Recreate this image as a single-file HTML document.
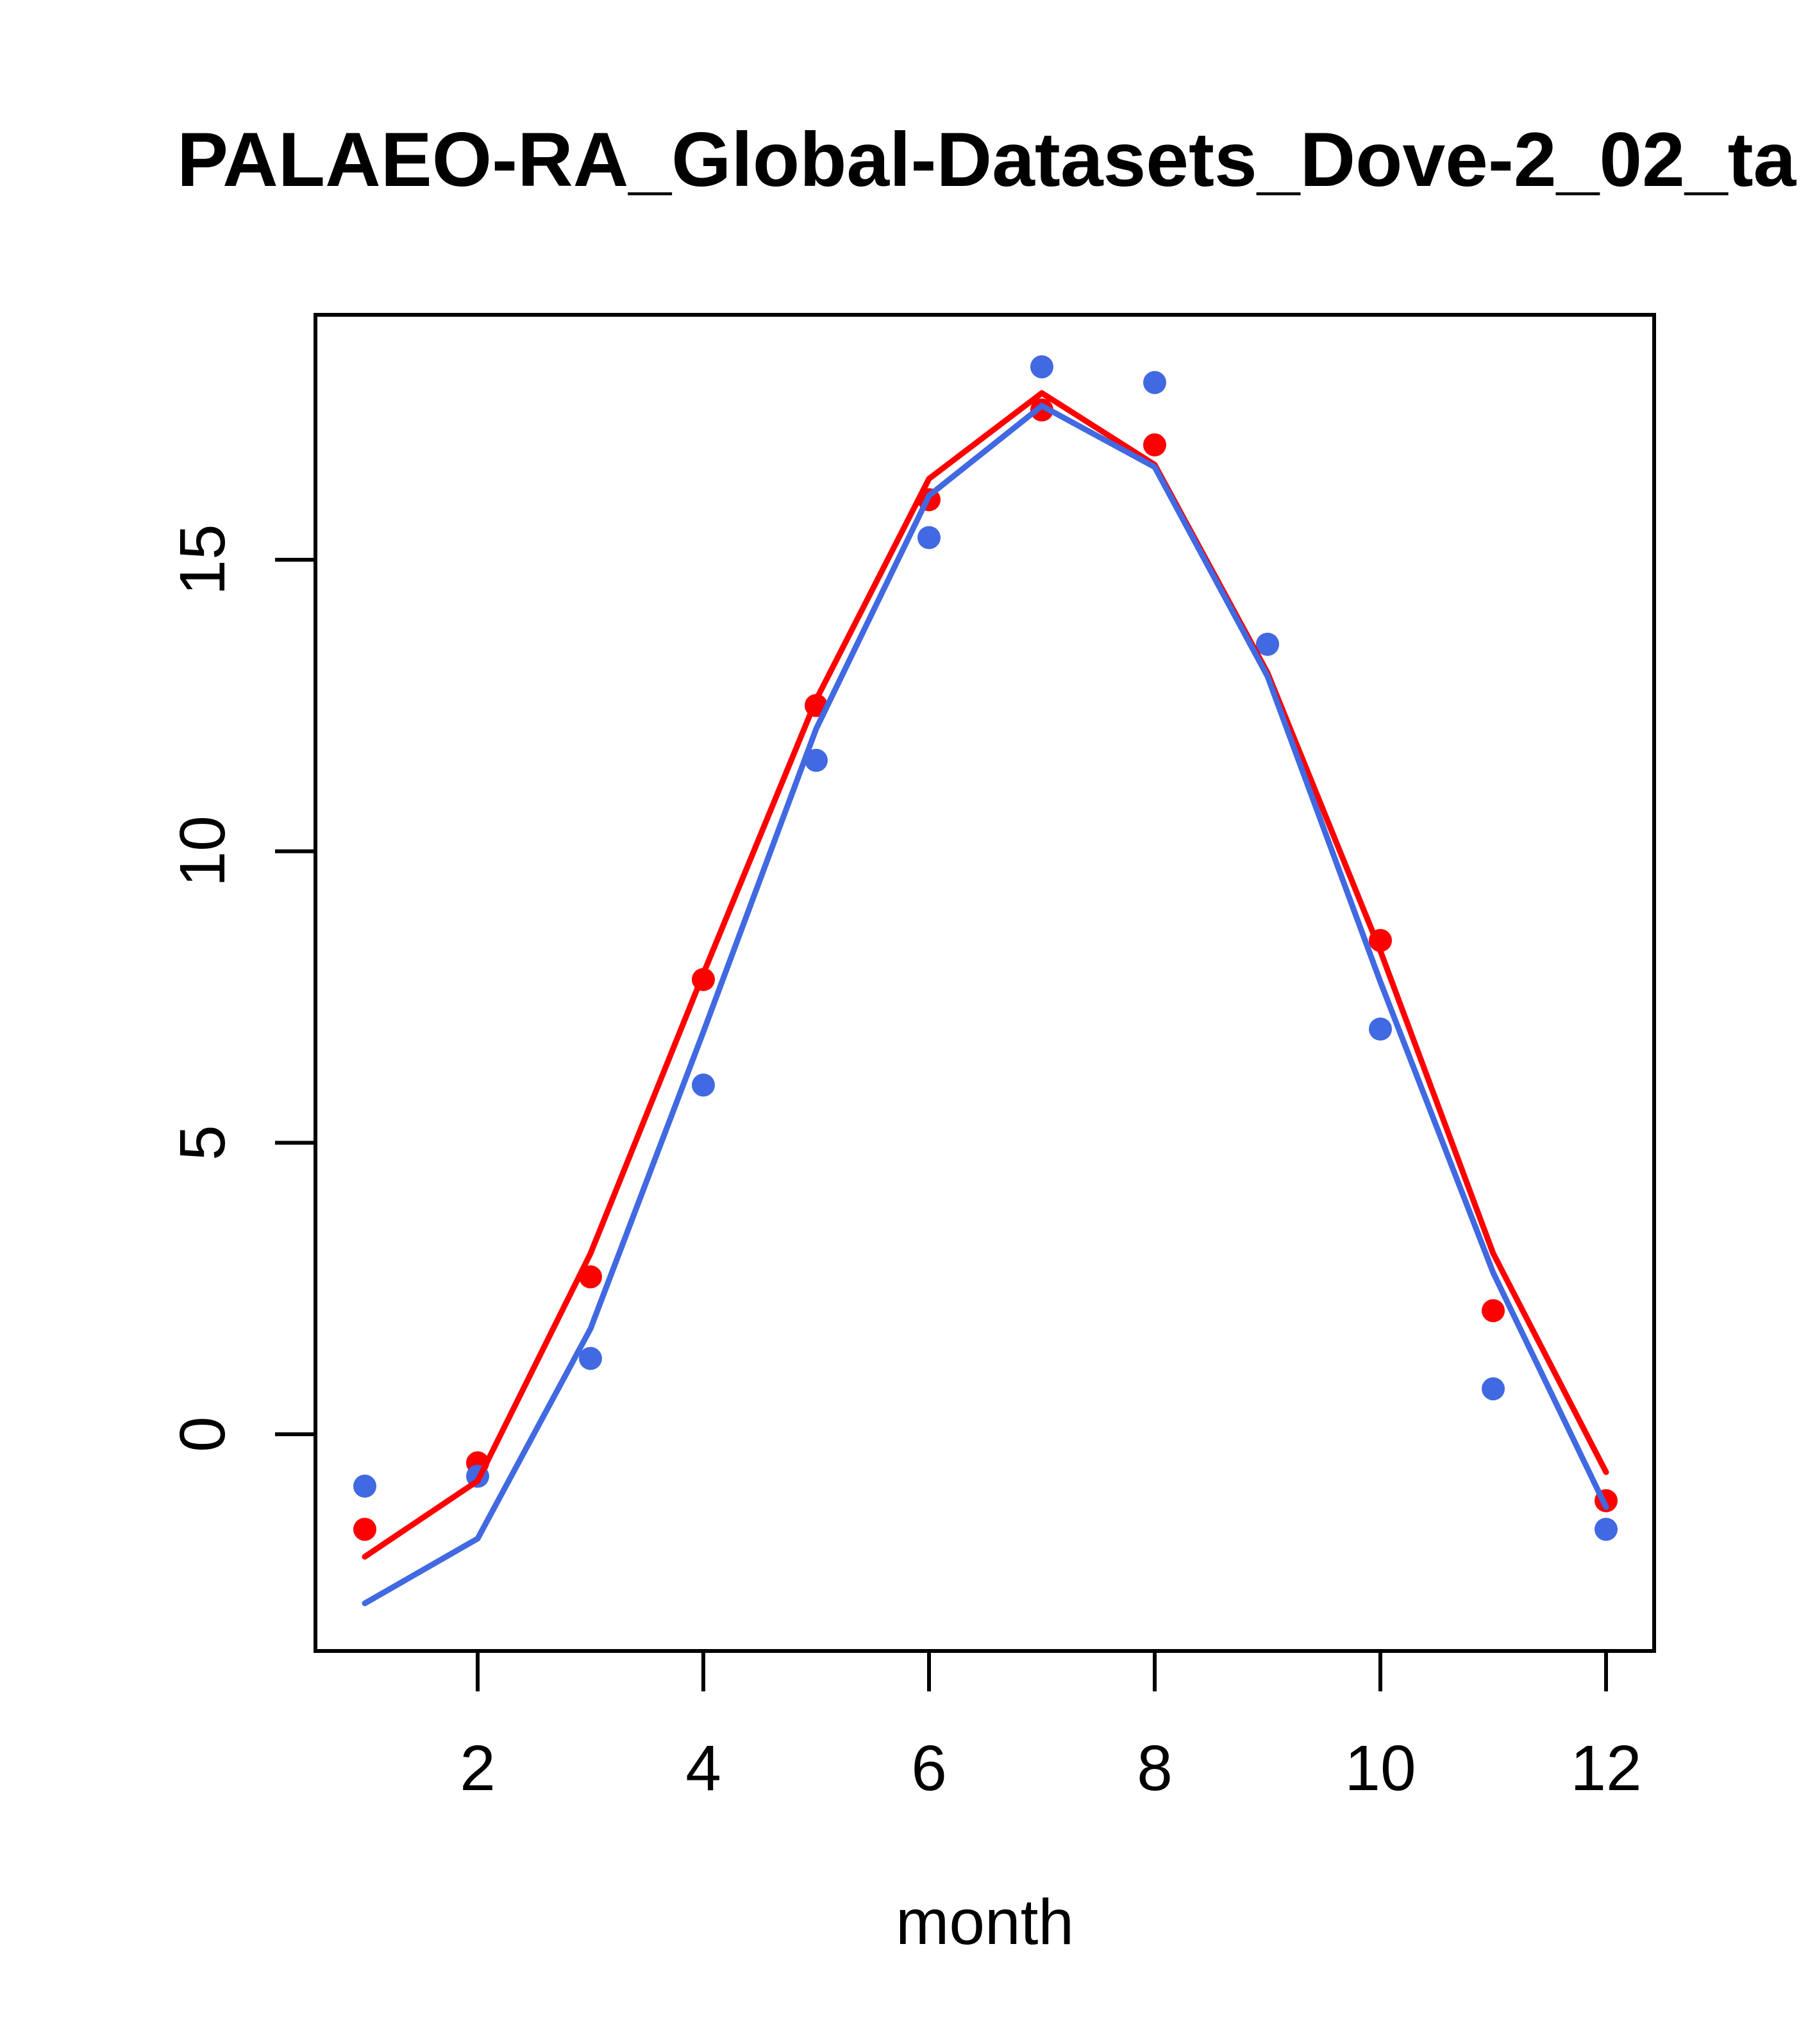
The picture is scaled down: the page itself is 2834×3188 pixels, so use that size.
<!DOCTYPE html>
<html><head><meta charset="utf-8"><style>
html,body{margin:0;padding:0;background:#fff;}
svg{display:block;}
</style></head><body>
<svg xmlns="http://www.w3.org/2000/svg" width="2834" height="3188" viewBox="0 0 2834 3188" font-family="Liberation Sans, sans-serif">
<rect width="2834" height="3188" fill="#fff"/>
<text x="276" y="290" font-size="120" font-weight="bold">PALAEO-RA_Global-Datasets_Dove-2_02_ta</text>
<g id="plot"></g>
<text x="1536" y="3032" font-size="100" text-anchor="middle">month</text>
</svg>
<script>
const months = [1,2,3,4,5,6,7,8,9,10,11,12];
const redPoints = [-1.63,-0.49,2.7,7.8,12.5,16.03,17.57,16.97,13.55,8.47,2.12,-1.14];
const bluePoints = [-0.89,-0.72,1.3,5.99,11.56,15.38,18.31,18.04,13.55,6.95,0.78,-1.63];
const redLine = [-2.1,-0.8,3.1,7.9,12.6,16.39,17.86,16.63,13.06,8.29,3.1,-0.65];
const blueLine = [-2.9,-1.79,1.81,6.9,12.1,16.1,17.64,16.59,13.0,7.76,2.77,-1.25];
const xTicks = [2,4,6,8,10,12];
const yTicks = [0,5,10,15];

const NS = 'http://www.w3.org/2000/svg';
const g = document.getElementById('plot');
function X(m){ return 569 + (m-1)*176; }
function Y(v){ return 2237 - v*90.93; }
function mk(tag, attrs){ const e=document.createElementNS(NS,tag); for(const k in attrs) e.setAttribute(k,attrs[k]); g.appendChild(e); return e; }

const box = mk('rect',{x:492,y:491,width:2088,height:2084,fill:'none',stroke:'#000','stroke-width':6});



xTicks.forEach(t=>{
  const l = mk('line',{x1:X(t),x2:X(t),y1:2575,y2:2638,stroke:'#000','stroke-width':6});
  
  
  const tx = mk('text',{x:X(t),y:2792,'font-size':100,'text-anchor':'middle'});
  tx.textContent = t;
  
  
});
yTicks.forEach(t=>{
  const l = mk('line',{x1:429,x2:492,y1:Y(t),y2:Y(t),stroke:'#000','stroke-width':6});
  
  
  const tx = mk('text',{x:0,y:0,'font-size':100,'text-anchor':'middle',transform:`translate(350,${Y(t)}) rotate(-90)`});
  tx.textContent = t;
  
  
});

function line(vals,color,name){
  const p = mk('polyline',{points:vals.map((v,i)=>X(months[i])+','+Y(v)).join(' '),fill:'none',stroke:color,'stroke-width':9,'stroke-linecap':'round','stroke-linejoin':'round'});
  
  
}
function pts(vals,color,name){
  vals.forEach((v,i)=>{
    const c = mk('circle',{cx:X(months[i]),cy:Y(v),r:18,fill:color});
    
    
  });
}
pts(redPoints,'#ff0000','red-point');
pts(bluePoints,'#4169e1','blue-point');
line(redLine,'#ff0000','red-line');
line(blueLine,'#4169e1','blue-line');
</script>
</body></html>
